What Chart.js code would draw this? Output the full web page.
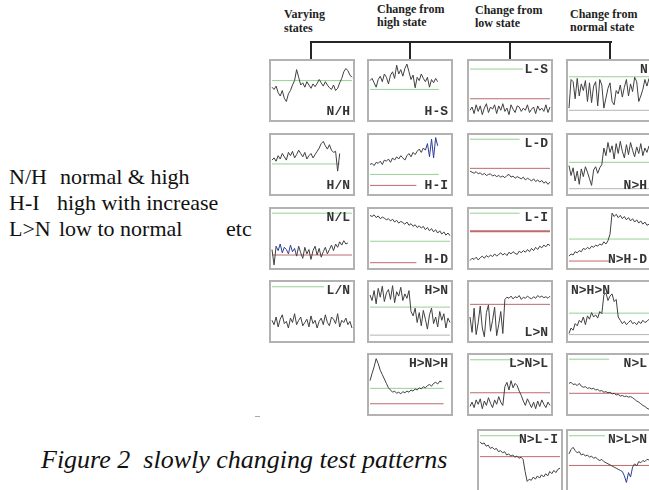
<!DOCTYPE html>
<html>
<head>
<meta charset="utf-8">
<script src="https://cdn.jsdelivr.net/npm/chart.js@4"></script>
<style>
html,body{margin:0;padding:0;background:#fff;}
body{width:649px;height:490px;position:relative;overflow:hidden;}
.abs{position:absolute;white-space:pre;}
.hdr{font-family:"Liberation Serif","Times New Roman",serif;font-weight:bold;font-size:12px;line-height:13px;color:#222;}
.left{font-family:"Liberation Serif","Times New Roman",serif;font-size:22px;line-height:22px;color:#111;}
.cap{font-family:"Liberation Serif","Times New Roman",serif;font-style:italic;font-size:26px;line-height:26px;color:#111;}
.panel{position:absolute;width:86px;height:63px;box-sizing:border-box;border:2px solid #b2b2b2;background:#fff;}
.panel canvas{position:absolute;left:0;top:0;}
.plab{position:absolute;font-family:"Liberation Mono","Courier New",monospace;font-weight:bold;font-size:13px;line-height:12px;color:#333;white-space:pre;}
.br{position:absolute;background:#262626;}
</style>
</head>
<body>
<script>
// ---------------- data ----------------
const panelNames = ['N/H','H-S','L-S','N-S','H/N','H-I','L-D','N>H','N/L','H-D','L-I','N>H-D','L/N','H>N','L>N','N>H>N','H>N>H','L>N>L','N>L','N>L-I','N>L>N'];

const sNH   = [56,52,58,46,40,50,36,30,44,50,60,68,88,74,60,64,56,66,60,54,62,57,63,70,64,58,66,60,55,52,60,50,54,64,72,84,90,86,78,74];
const sHS   = [68,72,64,56,70,76,66,80,74,62,78,84,72,96,80,88,76,90,98,84,70,78,55,74,68,80,72,66,74,56,70,64,72,66];
const sLS   = [14,20,8,24,12,22,6,18,26,10,20,16,24,8,22,14,26,12,18,6,24,16,10,22,20,12,18,14,24,10,16,20,8,22,14,18,12,24,10,20];
const sNS   = [18,70,66,35,72,40,62,50,68,30,64,28,58,66,22,70,60,18,36,54,64,30,24,50,44,60,38,56,70,40,62,48,74,66,30,40,52,70,58,72];
const sHN   = [58,62,56,66,60,70,64,58,72,66,74,62,68,76,70,64,72,60,66,70,62,68,74,80,88,92,84,78,86,76,72,74,38,70];
const sHI   = [50,52,48,54,52,56,50,58,56,60,54,62,58,64,60,66,62,58,66,70,64,72,68,74,78,72,80,76,88,64,96,62,99,84];
const sLD   = [38,36,34,37,33,35,31,34,30,32,33,29,31,28,30,27,29,26,30,32,27,29,25,28,26,24,27,22,25,23,20,24,19,22,18,21,16,19,14,18];
const sNtoH = [48,30,44,20,38,14,42,28,46,36,24,12,40,46,34,44,50,80,66,90,72,84,60,88,70,92,74,62,86,68,90,76,64,82,70,88,66,80,72,84];
const sNL   = [30,2,36,28,40,24,34,30,22,38,26,32,18,36,24,14,34,22,30,12,28,36,20,32,16,26,34,22,30,38,28,40,34,44,38,46,40,42];
const sHD   = [92,90,93,88,91,86,89,87,84,86,82,85,80,83,78,81,79,76,80,74,77,72,75,70,73,69,72,66,70,64,68,62,66,60,64,58,62,56,60,55];
const sLI   = [10,14,12,16,11,15,18,14,19,16,20,17,22,18,21,24,20,23,19,25,22,26,23,21,27,24,28,25,30,26,32,28,34,30,36,33,38,35,40,37];
const sNHD  = [18,22,20,26,24,28,26,32,30,34,31,36,34,38,36,40,38,44,40,46,58,96,90,94,88,92,86,90,84,88,82,86,80,84,78,82,76,80,74,76];
const sLN   = [34,26,40,22,36,44,28,32,20,38,30,46,26,34,40,24,30,36,22,42,28,34,20,32,38,26,44,30,24,40,36,28,46,22,34,30,38,26,32,20];
const sHtoN = [80,70,88,64,92,76,96,68,84,90,72,97,66,86,78,94,70,82,74,88,50,42,56,30,48,24,52,36,18,44,56,28,40,22,50,34,46,20,38,30];
const sLtoN = [40,12,56,8,30,60,20,4,48,62,14,34,58,6,26,50,10,72,76,74,78,73,77,75,79,72,76,74,78,75,73,77,74,79,76,78,75,77,74,78];
const sNHN  = [10,20,16,28,24,34,30,40,26,42,36,48,40,44,38,50,46,80,84,70,78,82,68,72,40,34,28,32,26,30,34,28,30,26,32,28,34,30,32,36];
const sHNH  = [57,70,82,97,88,76,68,60,52,44,40,36,38,34,36,33,37,35,38,36,40,38,42,40,44,42,46,44,48,50,47,52,54,51,56,55];
const sLNL  = [10,18,8,22,14,24,6,20,12,26,16,8,22,14,28,18,12,46,54,40,57,44,52,48,38,30,20,12,24,16,8,18,6,20,10,22,14,8,18,12];
const sNtoL = [52,54,50,51,48,52,47,45,46,43,44,42,43,40,41,38,39,36,37,35,36,33,34,31,32,29,30,28,29,27,28,26,23,20,18,15,12,10,7,5];
const sNLI  = [84,80,82,76,78,72,74,70,72,66,68,64,66,60,62,58,60,56,58,54,56,52,30,12,16,14,20,16,22,18,24,20,26,22,30,26,32,28,34,36];
const sNLN  = [62,70,74,68,64,66,60,62,58,60,56,58,54,56,52,50,52,48,46,44,42,40,38,36,34,32,30,22,10,28,20,38,44,40,48,46,50,48,52,51];

const panelSeries = [sNH,sHS,sLS,sNS,sHN,sHI,sLD,sNtoH,sNL,sHD,sLI,sNHD,sLN,sHtoN,sLtoN,sNHN,sHNH,sLNL,sNtoL,sNLI,sNLN];
const greenLevels = [68,52,89,75,51,32,96,54,96,45,96,49,95,58,null,47,43,95,96,95,95];
const redLevels   = [null,null,35,null,null,12,43,null,20,6,63,9,null,null,63,null,15,35,34,57,41];
const grayLevels  = [null,null,null,14,null,null,null,6,null,null,null,null,null,7,null,8,null,null,null,null,null];
const windowLen = 40;

// ---------------- layout (positions / styles only) ----------------
const C1=269,C2=367,C3=467,C4=566;
const R1=59,R2=133,R3=207,R4=280,R5=353,R6=429;
const layout = [
 {x:C1,y:R1,lab:'br',g:[0,1]},
 {x:C2,y:R1,lab:'br',g:[0,0.86]},
 {x:C3,y:R1,lab:'tr',g:[0,0.66],r:[0,1]},
 {x:C4,y:R1,lab:'tr',g:[0,1],k:[0,1],labLeft:72},
 {x:C1,y:R2,lab:'br',g:[0,0.85]},
 {x:C2,y:R2,lab:'br',g:[0,0.86],r:[0,0.58],blue:[27,33]},
 {x:C3,y:R2,lab:'tr',g:[0,0.62],r:[0,1]},
 {x:C4,y:R2,lab:'br',g:[0,1],k:[0,1]},
 {x:C1,y:R3,lab:'tr',g:[0,1],r:[0,1],blue:[2,12]},
 {x:C2,y:R3,lab:'br',g:[0,1],r:[0,0.58]},
 {x:C3,y:R3,lab:'tr',g:[0,0.62],r:[0,1],rw:2},
 {x:C4,y:R3,lab:'br',g:[0,1],r:[0,0.5]},
 {x:C1,y:R4,lab:'tr',g:[0,0.65]},
 {x:C2,y:R4,lab:'tr',g:[0,1],k:[0,1]},
 {x:C3,y:R4,lab:'br',r:[0,1]},
 {x:C4,y:R4,lab:'tl',g:[0,1],k:[0,1]},
 {x:C2,y:R5,lab:'tr',g:[0,0.92],r:[0,0.92]},
 {x:C3,y:R5,lab:'tr',g:[0,0.55],r:[0,1]},
 {x:C4,y:R5,lab:'tr',g:[0,0.5],r:[0,1]},
 {x:477,y:R6,lab:'tr',g:[0,0.5],r:[0,1]},
 {x:C4,y:R6,lab:'tr',g:[0,0.45],r:[0,1],blue:[26,31]}
];

function addDiv(cls, css, text){
  const d=document.createElement('div');
  d.className=cls; d.style.cssText=css; if(text!==undefined) d.textContent=text;
  document.body.appendChild(d); return d;
}

// headers
addDiv('abs hdr','left:284px;top:7px;line-height:14px;','Varying\nstates');
addDiv('abs hdr','left:377px;top:3px;','Change from\nhigh state');
addDiv('abs hdr','left:475px;top:4px;','Change from\nlow state');
addDiv('abs hdr','left:570px;top:8px;','Change from\nnormal state');
// bracket
addDiv('br','left:310px;top:41px;width:302px;height:2px;');
[310,409,509,609].forEach(x=>addDiv('br',`left:${x}px;top:41px;width:2px;height:18px;`));

// left legend text
addDiv('abs left','left:9px;top:166px;','N/H');
addDiv('abs left','left:60px;top:166px;','normal & high');
addDiv('abs left','left:9px;top:192px;','H-I');
addDiv('abs left','left:57px;top:192px;','high with increase');
addDiv('abs left','left:9px;top:218px;','L>N');
addDiv('abs left','left:59px;top:218px;','low to normal');
addDiv('abs left','left:226px;top:218px;','etc');
// caption
addDiv('abs cap','left:41px;top:447px;','Figure 2  slowly changing test patterns');
addDiv('br','left:255px;top:416px;width:5px;height:1px;background:#aaa;');

const GREEN='#96d096', RED='#c06a6a', GRAY='#b4b4b4', INK='#404040', BLUE='#2c3f94';

panelNames.forEach((name,i)=>{
  const L=layout[i];
  const p=addDiv('panel',`left:${L.x}px;top:${L.y}px;`);
  const cv=document.createElement('canvas');
  cv.width=82; cv.height=59; p.appendChild(cv);
  const xm=windowLen-1;
  const ds=[];
  const ref=(v,span,col,w)=>({data:[{x:span[0]*xm,y:v},{x:span[1]*xm,y:v}],borderColor:col,borderWidth:w||1,pointRadius:0,order:5,clip:false});
  if(greenLevels[i]!==null && L.g) ds.push(ref(greenLevels[i],L.g,GREEN,1));
  if(redLevels[i]!==null && L.r) ds.push(ref(redLevels[i],L.r,RED,L.rw||1));
  if(grayLevels[i]!==null && L.k) ds.push(ref(grayLevels[i],L.k,GRAY,1));
  const blue=L.blue;
  ds.push({
    data:panelSeries[i].map((v,j)=>({x:j,y:v})),
    borderColor:INK,borderWidth:1,pointRadius:0,order:0,clip:false,
    segment:{borderColor:ctx=>(blue && ctx.p0DataIndex>=blue[0] && ctx.p0DataIndex<blue[1])?BLUE:undefined}
  });
  new Chart(cv,{
    type:'line',
    data:{datasets:ds},
    options:{
      responsive:false,animation:false,events:[],devicePixelRatio:1,
      plugins:{legend:{display:false},tooltip:{enabled:false}},
      layout:{padding:{left:1,right:1,top:2,bottom:2}},
      elements:{line:{tension:0},point:{radius:0}},
      scales:{x:{type:'linear',min:0,max:xm,display:false},y:{min:0,max:100,display:false}}
    }
  });
  const lb=document.createElement('div');
  lb.className='plab'; lb.textContent=name;
  if(L.lab==='br'){lb.style.right='3px';lb.style.bottom='2px';}
  else if(L.lab==='tr'){lb.style.right='3px';lb.style.top='3px';}
  else {lb.style.left='3px';lb.style.top='3px';}
  if(L.labLeft!==undefined){lb.style.right='';lb.style.left=L.labLeft+'px';}
  p.appendChild(lb);
});
</script>
</body>
</html>
